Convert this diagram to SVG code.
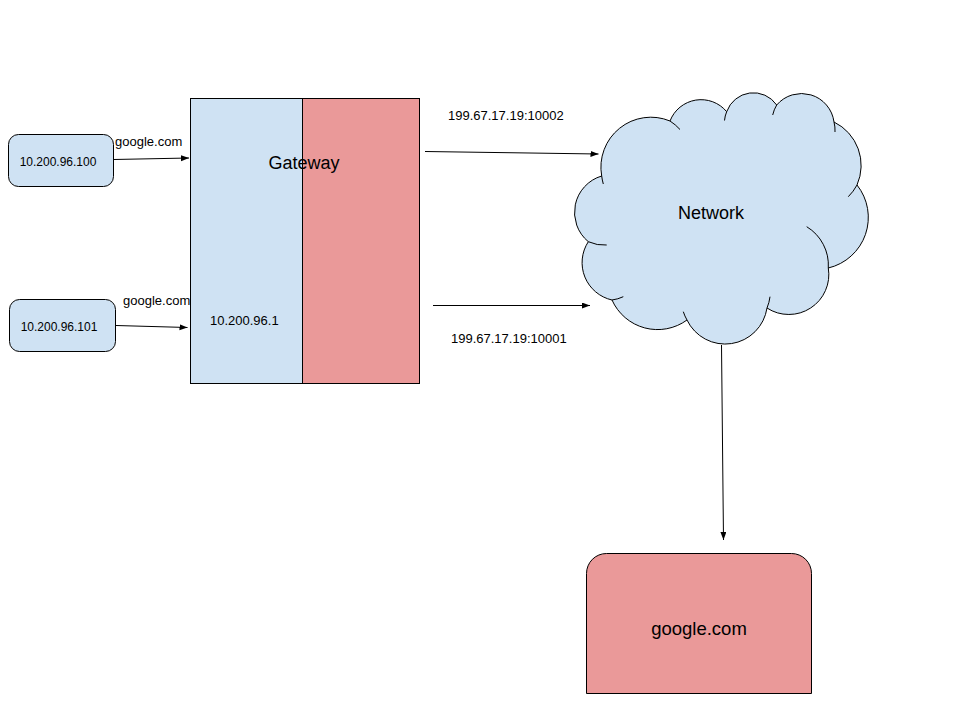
<svg xmlns="http://www.w3.org/2000/svg" width="960" height="720" viewBox="0 0 960 720">
<style>
.blue{fill:#cfe2f3;stroke:#000;stroke-width:1}
.red{fill:#ea9999;stroke:#000;stroke-width:1}
.t{font-family:"Liberation Sans",Arial,sans-serif;fill:#000}
.c{stroke:#000;stroke-width:1;fill:none}
.tail{stroke:#000;stroke-width:1;fill:none}
</style>
<defs>
<marker id="ah" markerUnits="userSpaceOnUse" markerWidth="9" markerHeight="7" refX="8" refY="3" orient="auto">
<path d="M0,0 L8,3 L0,6 Z" fill="#000"/>
</marker>
</defs>
<rect width="960" height="720" fill="#fff"/>
<g id="client1">
<rect class="blue" x="8.5" y="134.5" width="105" height="52" rx="10"/>
<text class="t" x="58" y="165.5" font-size="12" text-anchor="middle">10.200.96.100</text>
</g>
<g id="client2">
<rect class="blue" x="9.5" y="299.5" width="106" height="52" rx="10"/>
<text class="t" x="59" y="330.5" font-size="12" text-anchor="middle">10.200.96.101</text>
</g>
<g id="gateway">
<rect class="blue" x="190.5" y="98.5" width="112" height="285"/>
<rect class="red" x="302.5" y="98.5" width="117" height="285"/>
<text class="t" x="304" y="169" font-size="18" text-anchor="middle">Gateway</text>
<text class="t" x="210" y="324.5" font-size="13">10.200.96.1</text>
</g>
<g id="network">
<path class="blue" d="M 601.7 176 A 50 50 0 0 1 670 121 A 33.3 33.3 0 0 1 726.7 111.7 A 28.3 28.3 0 0 1 776.7 105 A 32.7 32.7 0 0 1 834 122 A 48.3 48.3 0 0 1 857 185 A 52 52 0 0 1 828.3 268 A 40 40 0 0 1 767 308 A 42.3 42.3 0 0 1 687 320 A 49.9 49.9 0 0 1 612 300 A 38.3 38.3 0 0 1 588.3 241.7 A 38 38 0 0 1 601.7 176 Z"/>
<path class="tail" d="M 601.7 176 A 50 50 0 0 0 603.3 184 M 670 121 A 50 50 0 0 1 680 129.5 M 726.7 111.7 A 28 28 0 0 0 724.5 120.5 M 776.7 105 A 33 33 0 0 0 772.7 115 M 834 122 A 33 33 0 0 1 835 132 M 857 185 A 48 48 0 0 1 848.3 196.7 M 828.3 268 A 45 45 0 0 0 806.7 226.7 M 767 308 A 42 42 0 0 0 770 296.7 M 687 320 A 42 42 0 0 1 683.3 311.7 M 612 300 A 38 38 0 0 0 623.3 296.7 M 588.3 241.7 A 38 38 0 0 0 606.7 245"/>
<text class="t" x="711" y="219" font-size="18" text-anchor="middle">Network</text>
</g>
<g id="google">
<path class="red" d="M 586.5 693.5 V 573.5 A 20 20 0 0 1 606.5 553.5 H 791.5 A 20 20 0 0 1 811.5 573.5 V 693.5 Z"/>
<text class="t" x="699" y="634.5" font-size="18.5" text-anchor="middle">google.com</text>
</g>
<g id="connectors">
<line class="c" x1="113.5" y1="159.5" x2="189" y2="158" marker-end="url(#ah)"/>
<line class="c" x1="116" y1="325.5" x2="187.5" y2="327.5" marker-end="url(#ah)"/>
<line class="c" x1="425" y1="151.5" x2="598.5" y2="154" marker-end="url(#ah)"/>
<line class="c" x1="433" y1="305.5" x2="590" y2="305.5" marker-end="url(#ah)"/>
<line class="c" x1="721.5" y1="345" x2="723.5" y2="540" marker-end="url(#ah)"/>
<text class="t" x="115" y="146" font-size="13">google.com</text>
<text class="t" x="123" y="305" font-size="13">google.com</text>
<text class="t" x="448" y="120" font-size="13">199.67.17.19:10002</text>
<text class="t" x="451" y="343" font-size="13">199.67.17.19:10001</text>
</g>
</svg>
